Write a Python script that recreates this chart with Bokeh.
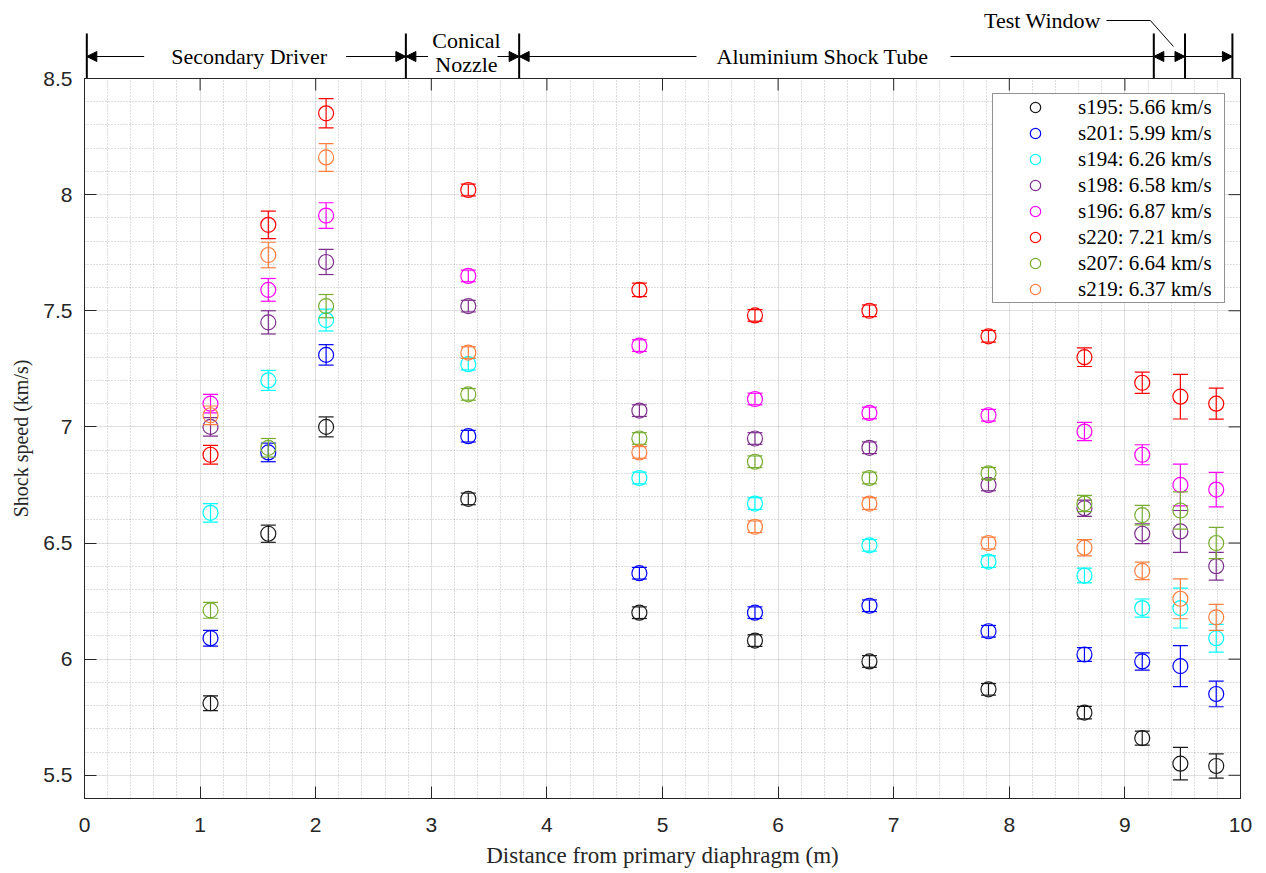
import numpy as np
from bokeh.plotting import figure
from bokeh.models import (Range1d, FixedTicker, Legend, LegendItem,
                          Arrow, NormalHead, ColumnDataSource)
from bokeh.core.properties import value
from bokeh.layouts import column
from bokeh.embed import file_html
from bokeh.resources import INLINE

# ---------------- data ----------------
distance = [1.09, 1.59, 2.09, 3.32, 4.80, 5.80, 6.79, 7.82, 8.65, 9.15, 9.48, 9.79]

shot_names = ["s195", "s201", "s194", "s198", "s196", "s220", "s207", "s219"]
shot_speeds = [5.66, 5.99, 6.26, 6.58, 6.87, 7.21, 6.64, 6.37]
shot_colors = ["#1a1a1a", "#0000ff", "#00ffff", "#7e2f8e", "#ff00ff", "#ff0000", "#77ac30", "#ff7f40"]

s195 = [5.81, 6.54, 7.00, 6.69, 6.20, 6.08, 5.99, 5.87, 5.77, 5.66, 5.55, 5.54]
s201 = [6.09, 6.89, 7.31, 6.96, 6.37, 6.20, 6.23, 6.12, 6.02, 5.99, 5.97, 5.85]
s194 = [6.63, 7.20, 7.46, 7.27, 6.78, 6.67, 6.49, 6.42, 6.36, 6.22, 6.22, 6.09]
s198 = [7.00, 7.45, 7.71, 7.52, 7.07, 6.95, 6.91, 6.75, 6.65, 6.54, 6.55, 6.40]
s196 = [7.10, 7.59, 7.91, 7.65, 7.35, 7.12, 7.06, 7.05, 6.98, 6.88, 6.75, 6.73]
s220 = [6.88, 7.87, 8.35, 8.02, 7.59, 7.48, 7.50, 7.39, 7.30, 7.19, 7.13, 7.10]
s207 = [6.21, 6.91, 7.52, 7.14, 6.95, 6.85, 6.78, 6.80, 6.67, 6.62, 6.64, 6.50]
s219 = [7.05, 7.74, 8.16, 7.32, 6.89, 6.57, 6.67, 6.50, 6.48, 6.38, 6.26, 6.18]

s195_err = [0.032, 0.037, 0.043, 0.025, 0.025, 0.025, 0.025, 0.025, 0.027, 0.030, 0.070, 0.052]
s201_err = [0.034, 0.040, 0.044, 0.025, 0.025, 0.025, 0.025, 0.025, 0.030, 0.037, 0.088, 0.055]
s194_err = [0.040, 0.043, 0.047, 0.025, 0.025, 0.025, 0.025, 0.025, 0.032, 0.039, 0.086, 0.060]
s198_err = [0.040, 0.050, 0.054, 0.025, 0.025, 0.025, 0.025, 0.025, 0.035, 0.043, 0.090, 0.060]
s196_err = [0.040, 0.049, 0.055, 0.025, 0.025, 0.025, 0.025, 0.025, 0.039, 0.043, 0.090, 0.074]
s220_err = [0.040, 0.059, 0.063, 0.025, 0.029, 0.025, 0.025, 0.025, 0.040, 0.046, 0.096, 0.067]
s207_err = [0.034, 0.040, 0.050, 0.025, 0.025, 0.025, 0.025, 0.025, 0.035, 0.042, 0.080, 0.067]
s219_err = [0.040, 0.055, 0.060, 0.025, 0.025, 0.025, 0.025, 0.025, 0.035, 0.038, 0.086, 0.056]

series = [s195, s201, s194, s198, s196, s220, s207, s219]
series_err = [s195_err, s201_err, s194_err, s198_err, s196_err, s220_err, s207_err, s219_err]

x_ticks = [0, 1, 2, 3, 4, 5, 6, 7, 8, 9, 10]
y_ticks = [5.5, 6.0, 6.5, 7.0, 7.5, 8.0, 8.5]
y_tick_labels = ["5.5", "6", "6.5", "7", "7.5", "8", "8.5"]

# facility sections (top annotation)
section_bounds = [0.02, 2.78, 3.76, 9.25, 9.52, 9.93]
arrow_x_start = [0.516, 2.263, 2.972, 3.573, 5.294, 7.491]
arrow_x_end = [0.02, 2.78, 2.78, 3.76, 3.76, 9.93]
section_text = ["Secondary Driver", "Conical", "Nozzle", "Aluminium Shock Tube", "Test Window"]
section_text_x = [1.425, 3.304, 3.304, 6.384, 8.287]
section_text_y = [22.5, 38, 14, 22, 58]
leader_x = [8.84, 9.22, 9.42]
leader_y = [58, 58, 32]

AX = "#262626"
SERIF = "Liberation Serif"
SANS = "Liberation Sans"

FRAME_W, FRAME_H = 1156, 720
BORDER_L, BORDER_R = 84, 26
STRIP_H = 78
OVERLAP = 14
X0, X1 = 0, 10
Y0, Y1 = 5.4, 8.5
TICK_PX = 12

x_minor = [v for v in np.round(np.arange(0, 10.001, 0.2), 2) if abs(v - round(v)) > 1e-6]
y_minor = [v for v in np.round(np.arange(5.4, 8.501, 0.1), 2)
           if min(abs(v - t) for t in y_ticks) > 1e-6]

xr = Range1d(X0, X1)

# ---------------- main figure ----------------
p = figure(x_range=xr, y_range=Range1d(Y0, Y1), frame_width=FRAME_W, frame_height=FRAME_H,
           min_border_left=BORDER_L, min_border_right=BORDER_R, min_border_top=OVERLAP,
           min_border_bottom=60, toolbar_location=None, output_backend="svg",
           background_fill_color="white", border_fill_alpha=0.0,
           margin=(-OVERLAP, 0, 0, 0))

xt = FixedTicker(ticks=x_ticks, minor_ticks=x_minor)
yt = FixedTicker(ticks=y_ticks, minor_ticks=y_minor)
p.xaxis.ticker = xt
p.yaxis.ticker = yt
p.xgrid.ticker = xt
p.ygrid.ticker = yt
p.yaxis.major_label_overrides = {t: l for t, l in zip(y_ticks, y_tick_labels)}

for ax in (p.xaxis[0], p.yaxis[0]):
    ax.major_tick_in = TICK_PX
    ax.major_tick_out = 0
    ax.minor_tick_in = 0
    ax.minor_tick_out = 0
    ax.major_tick_line_color = AX
    ax.axis_line_color = AX
    ax.major_label_text_font = SANS
    ax.major_label_text_font_size = "21px"
    ax.major_label_text_color = AX
    ax.axis_label_text_font = SERIF
    ax.axis_label_text_font_style = "normal"
    ax.axis_label_text_color = AX
p.xaxis.major_label_standoff = 19
p.yaxis.major_label_standoff = 12
p.xaxis.axis_label = "Distance from primary diaphragm (m)"
p.xaxis.axis_label_text_font_size = "23px"
p.xaxis.axis_label_standoff = 8
p.yaxis.axis_label = "Shock speed (km/s)"
p.yaxis.axis_label_text_font_size = "20px"
p.yaxis.axis_label_standoff = 8

for g in (p.xgrid[0], p.ygrid[0]):
    g.grid_line_color = AX
    g.grid_line_alpha = 0.15
    g.minor_grid_line_color = AX
    g.minor_grid_line_alpha = 0.3
    g.minor_grid_line_dash = "1 2"
p.outline_line_color = AX
p.outline_line_width = 1

# inward ticks on the top and right edges of the box
tick_dx = TICK_PX * (X1 - X0) / FRAME_W
tick_dy = TICK_PX * (Y1 - Y0) / FRAME_H
p.segment(x0=x_ticks, y0=[Y1] * len(x_ticks), x1=x_ticks, y1=[Y1 - tick_dy] * len(x_ticks),
          line_color=AX, line_width=1)
p.segment(x0=[X1] * len(y_ticks), y0=y_ticks, x1=[X1 - tick_dx] * len(y_ticks), y1=y_ticks,
          line_color=AX, line_width=1)

items = []
for name, spd, col, ys, es in zip(shot_names, shot_speeds, shot_colors, series, series_err):
    ys_a = np.array(ys)
    es_a = np.array(es)
    lo = ys_a - es_a
    hi = ys_a + es_a
    p.segment(x0=distance, y0=lo, x1=distance, y1=hi, line_color=col, line_width=1.2)
    p.scatter(x=distance + distance, y=list(lo) + list(hi), marker="dash", size=15,
              line_color=col, line_width=1.2)
    r_c = p.scatter(x=distance, y=ys, marker="circle", size=15, fill_color=None,
                    line_color=col, line_width=1.2)
    items.append(LegendItem(label=f"{name}: {spd:.2f} km/s", renderers=[r_c]))

legend = Legend(items=items, location="top_right", margin=15, padding=0, spacing=0,
                glyph_height=26, glyph_width=84, label_standoff=1, label_width=146,
                label_height=26, label_text_font=SERIF, label_text_font_size="21px",
                label_text_color="black", border_line_color=AX, border_line_width=1,
                background_fill_color="white", background_fill_alpha=1.0,
                inactive_fill_alpha=0.0)
p.add_layout(legend, "center")

# ---------------- top annotation strip ----------------
pt = figure(x_range=xr, y_range=Range1d(0, STRIP_H), frame_width=FRAME_W, frame_height=STRIP_H,
            min_border_left=BORDER_L, min_border_right=BORDER_R, min_border_top=0,
            min_border_bottom=0, x_axis_type=None, y_axis_type=None, toolbar_location=None,
            output_backend="svg", background_fill_color="white", border_fill_color="white")
pt.outline_line_color = None

pt.segment(x0=section_bounds, y0=0, x1=section_bounds, y1=45, line_color="black", line_width=2)
arrow_src = ColumnDataSource(dict(x0=arrow_x_start, x1=arrow_x_end,
                                  y0=[22] * len(arrow_x_start), y1=[22] * len(arrow_x_end)))
pt.add_layout(Arrow(source=arrow_src, x_start="x0", y_start="y0", x_end="x1", y_end="y1",
                    line_color="black", line_width=1.2,
                    end=NormalHead(size=10, fill_color="black", line_color="black")))
pt.add_layout(Arrow(x_start=section_bounds[3], y_start=22, x_end=section_bounds[4], y_end=22,
                    line_color="black", line_width=1.2,
                    start=NormalHead(size=10, fill_color="black", line_color="black"),
                    end=NormalHead(size=10, fill_color="black", line_color="black")))
pt.line(x=leader_x, y=leader_y, line_color="black", line_width=1)
pt.text(x=section_text_x, y=section_text_y, text=section_text, text_font=value(SERIF),
        text_font_size="22px", text_align="center", text_baseline="middle", text_color="black")

layout = column(pt, p, spacing=0)
open("out.html", "w").write(file_html(layout, INLINE))
